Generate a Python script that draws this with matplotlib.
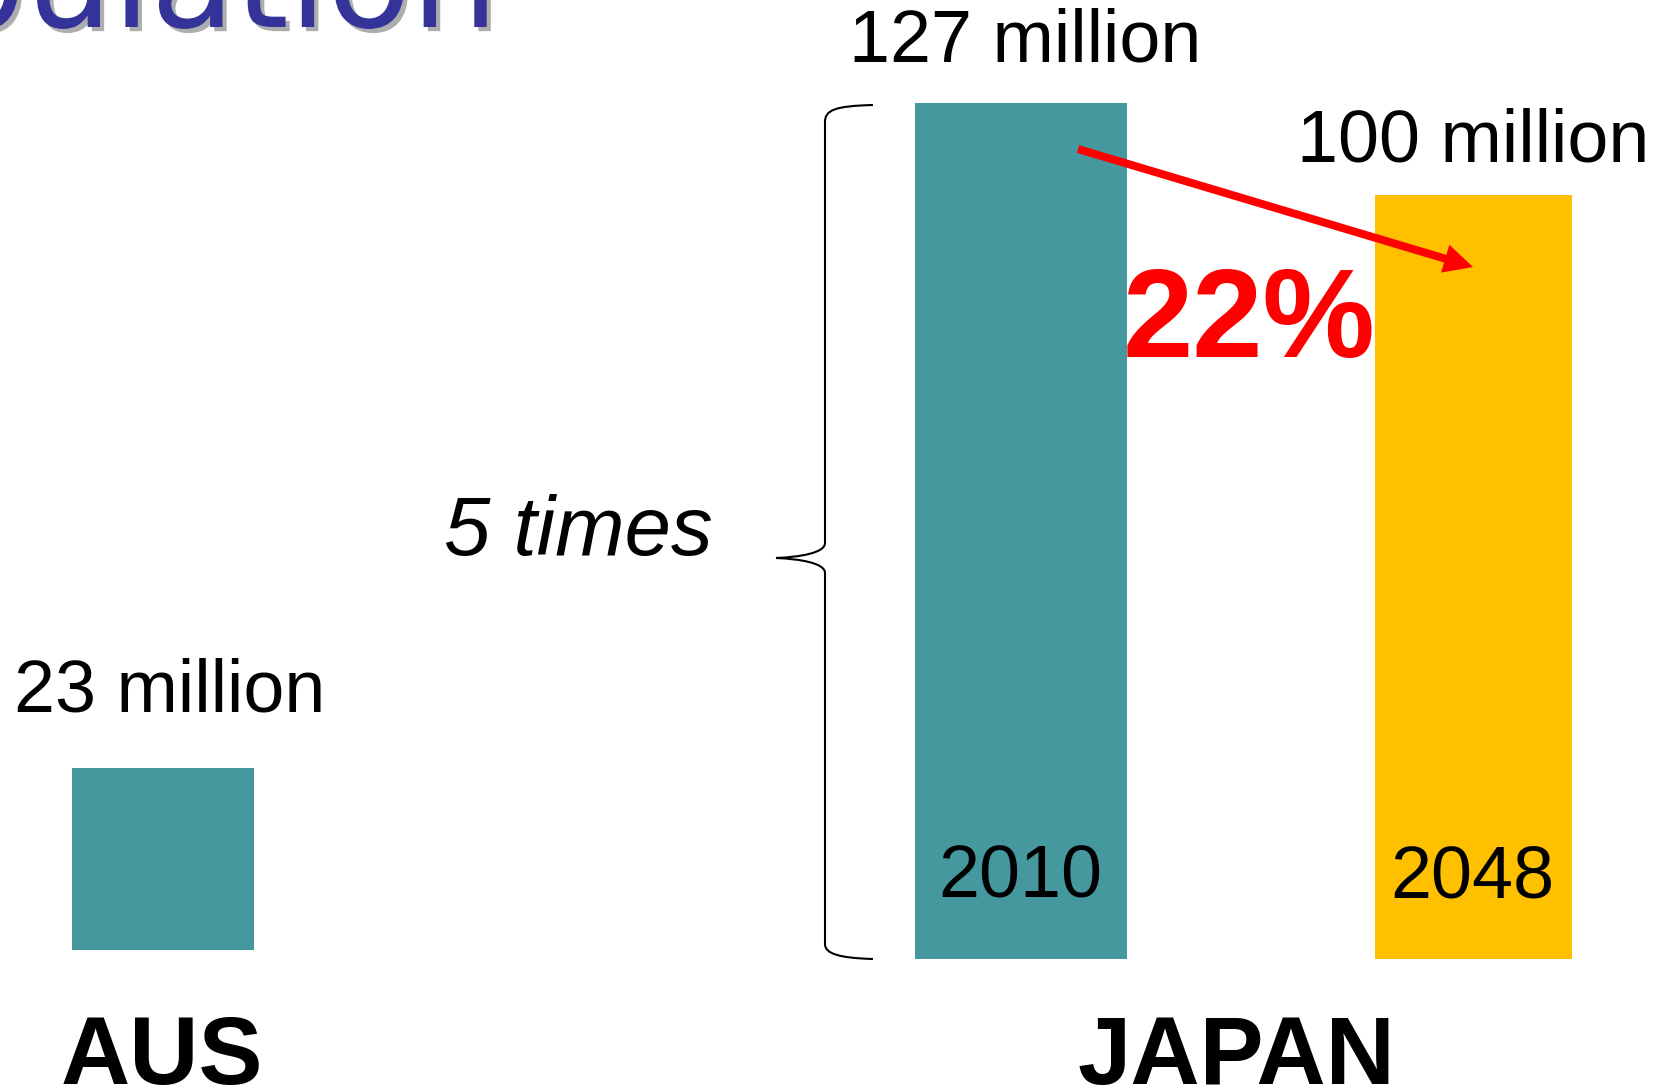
import matplotlib
matplotlib.use("Agg")
import matplotlib.pyplot as plt
from matplotlib.path import Path
from matplotlib.patches import PathPatch, FancyArrow
import matplotlib.patheffects as pe

# ---------------- data ----------------
aus_category = ["AUS"]
aus_heights_drawn = [27.0]          # bar height as drawn (same scale as Japan 2010 = 127)
aus_labels = ["23 million"]

japan_years = ["2010", "2048"]
japan_heights_drawn = [127.0, 113.3]
japan_labels = ["127 million", "100 million"]
japan_category = "JAPAN"

change_label = "22%"
ratio_label = "5 times"
title_text = "Population"

TEAL = "#46989F"
GOLD = "#FFC000"
RED = "#FF0000"
TITLE_BLUE = "#333399"

W, H = 1659, 1088
plt.rcParams["font.family"] = ["Liberation Sans", "DejaVu Sans"]

fig = plt.figure(figsize=(W / 100, H / 100), dpi=100)
fig.patch.set_facecolor("white")

px_per_unit = 856 / 127.0

# Japan axes: categories 0,1 centred at x=1021 and 1473.5 px, baseline at y=959 px
jp_left, jp_width = 794.75, 905.0
jp_base = 959
ax_jp = fig.add_axes([jp_left / W, (H - jp_base) / H, jp_width / W, jp_base / H])
ax_jp.set_xlim(-0.5, 1.5)
ax_jp.set_ylim(0, jp_base / px_per_unit)
ax_jp.axis("off")
ax_jp.bar([0], japan_heights_drawn[:1], width=0.4685, color=TEAL, align="center")
ax_jp.bar([1], japan_heights_drawn[1:], width=0.435, color=GOLD, align="center")

# AUS axes: bar centred at x=163 px, baseline at y=950 px
aus_w = 400.0
aus_base = 950
ax_aus = fig.add_axes([(163 - aus_w / 2) / W, (H - aus_base) / H, aus_w / W, aus_base / H])
ax_aus.set_xlim(-0.5, 0.5)
ax_aus.set_ylim(0, aus_base / px_per_unit)
ax_aus.axis("off")
ax_aus.bar([0], aus_heights_drawn, width=182 / aus_w, color=TEAL)

LBL = 53
# value labels above bars
ax_jp.annotate(japan_labels[0], xy=(0, japan_heights_drawn[0]), xytext=(4.5, 41),
               textcoords="offset pixels", ha="center", va="baseline", fontsize=LBL,
               annotation_clip=False)
ax_jp.annotate(japan_labels[1], xy=(1, japan_heights_drawn[1]), xytext=(0, 34),
               textcoords="offset pixels", ha="center", va="baseline", fontsize=LBL,
               annotation_clip=False)
ax_aus.annotate(aus_labels[0], xy=(0, aus_heights_drawn[0]), xytext=(6.5, 57),
                textcoords="offset pixels", ha="center", va="baseline", fontsize=LBL,
                annotation_clip=False)
# year labels inside bars
for i, yr in enumerate(japan_years):
    ax_jp.annotate(yr, xy=(i, 0), xytext=(-1, 62), textcoords="offset pixels",
                   ha="center", va="baseline", fontsize=LBL, zorder=5,
                   annotation_clip=False)
# category labels
ax_aus.annotate(aus_category[0], xy=(0, 0), xytext=(-1, -134), textcoords="offset pixels",
                ha="center", va="baseline", fontsize=69, fontweight="bold",
                annotation_clip=False)
ax_jp.annotate(japan_category, xy=(0.5, 0), xytext=(-10.5, -125), textcoords="offset pixels",
               ha="center", va="baseline", fontsize=69, fontweight="bold",
               annotation_clip=False)

# overlay in pixel coordinates for decorations
ov = fig.add_axes([0, 0, 1, 1], zorder=10)
ov.set_xlim(0, W)
ov.set_ylim(H, 0)
ov.axis("off")
ov.patch.set_alpha(0)

# partial title (cut off at top)
ov.text(-224, 27, title_text, fontsize=99, color=TITLE_BLUE, family="DejaVu Sans",
        ha="left", va="baseline",
        path_effects=[pe.SimplePatchShadow(offset=(3, -3), shadow_rgbFace="#777777", alpha=0.6),
                      pe.Normal()])

# curly brace spanning Japan 2010 bar
verts = [
    (873, 105), (835, 106), (825, 110), (825, 122),
    (825, 543),
    (825, 553), (800, 557), (776, 558),
    (800, 559), (825, 563), (825, 573),
    (825, 944),
    (825, 954), (840, 958), (873, 959),
]
codes = [Path.MOVETO, Path.CURVE4, Path.CURVE4, Path.CURVE4,
         Path.LINETO,
         Path.CURVE4, Path.CURVE4, Path.CURVE4,
         Path.CURVE4, Path.CURVE4, Path.CURVE4,
         Path.LINETO,
         Path.CURVE4, Path.CURVE4, Path.CURVE4]
ov.add_patch(PathPatch(Path(verts, codes), facecolor="none", edgecolor="black", lw=1.5))

ov.text(578, 555, ratio_label, fontsize=60, style="italic", ha="center", va="baseline")

# red arrow
x0, y0, x1, y1 = 1078, 149, 1473, 267
ov.add_patch(FancyArrow(x0, y0, x1 - x0, y1 - y0, width=8, head_width=29, head_length=29,
                        length_includes_head=True, color=RED, lw=0))

ov.text(1249, 357, change_label, fontsize=91, fontweight="bold", color=RED,
        ha="center", va="baseline")

fig.savefig("out.png", dpi=100)
